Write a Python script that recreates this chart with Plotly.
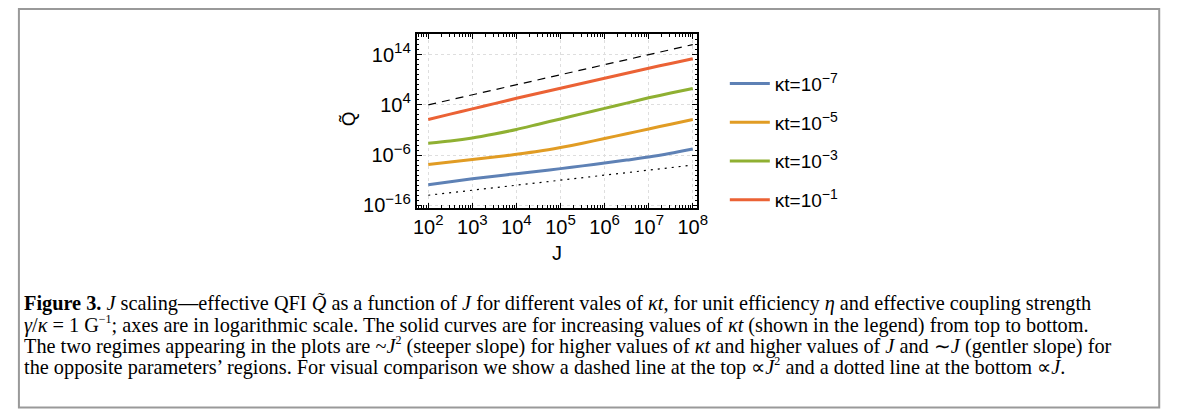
import numpy as np
import plotly.graph_objects as go

# ---- data (log10 values) ----
logJ = [2, 2.5, 3, 3.5, 4, 4.5, 5, 5.5, 6, 6.5, 7, 7.5, 8]
kt_exp = [-7, -5, -3, -1]
logQ_kt7 = [-11.9, -11.3, -10.7, -10.2, -9.7, -9.2, -8.7, -8.15, -7.6, -7.0, -6.4, -5.65, -4.8]
logQ_kt5 = [-7.9, -7.4, -6.9, -6.4, -5.85, -5.25, -4.5, -3.65, -2.7, -1.75, -0.8, 0.15, 1.1]
logQ_kt3 = [-3.65, -3.2, -2.6, -1.8, -0.9, 0.15, 1.2, 2.25, 3.3, 4.35, 5.4, 6.35, 7.25]
logQ_kt1 = [1.1, 2.15, 3.2, 4.25, 5.3, 6.3, 7.3, 8.3, 9.3, 10.3, 11.3, 12.25, 13.2]
ref_logJ = [2, 8]
ref_dashed_logQ = [4, 16]     # ∝ J^2
ref_dotted_logQ = [-14, -8]   # ∝ J

x_tick_exp = [2, 3, 4, 5, 6, 7, 8]
y_tick_exp = [14, 4, -6, -16]

colors = ["#5E81B5", "#E19C24", "#8FB032", "#EB6235"]

W, H = 1179, 412


def sup(e, base="10", size=14):
    return base + "<sup><span style='font-size:%dpx'>" % size + str(e).replace("-", "−") + "</span></sup>"


def csup(t):
    return "<sup><span style='font-size:12px'>" + t + "</span></sup>"


J = 10.0 ** np.array(logJ)
series = [logQ_kt7, logQ_kt5, logQ_kt3, logQ_kt1]

fig = go.Figure()
for i, (e, s) in enumerate(zip(kt_exp, series)):
    fig.add_trace(go.Scatter(
        x=J, y=10.0 ** np.array(s), mode="lines", name=sup(e, base="κt=10", size=14),
        line=dict(color=colors[i], width=3, shape="spline", smoothing=0.6),
        legendgroup=f"g{i}",
    ))
rJ = 10.0 ** np.array(ref_logJ)
fig.add_trace(go.Scatter(x=rJ, y=10.0 ** np.array(ref_dashed_logQ), mode="lines",
                         line=dict(color="black", width=1.2, dash="8px,6px"), showlegend=False))
fig.add_trace(go.Scatter(x=rJ, y=10.0 ** np.array(ref_dotted_logQ), mode="lines",
                         line=dict(color="black", width=1.2, dash="2px,5px"), showlegend=False))

SANS = "Liberation Sans, Arial, sans-serif"
tickfont = dict(family=SANS, size=20, color="black")

x_minor = [m * 10.0 ** e for e in range(1, 9) for m in range(2, 10)]
y_minor = [10.0 ** e for e in range(-17, 19)]

fig.update_xaxes(
    type="log", range=[1.74, 8.1],
    domain=[410 / W, 694 / W],
    tickvals=[10.0 ** e for e in x_tick_exp], ticktext=[sup(e, size=15) for e in x_tick_exp],
    ticks="inside", ticklen=5, tickwidth=1, tickcolor="black",
    showline=True, linewidth=2, linecolor="black", mirror="ticks",
    showgrid=True, gridcolor="#dedede", griddash="dot", gridwidth=1,
    tickfont=tickfont, zeroline=False,
    minor=dict(tickvals=x_minor, ticks="inside", ticklen=2.5, tickcolor="black", showgrid=False),
)
fig.update_yaxes(
    type="log", range=[-16.45, 18.03],
    domain=[1 - 204 / H, 1 - 27 / H],
    tickvals=[10.0 ** e for e in y_tick_exp], ticktext=[sup(e, size=15) for e in y_tick_exp],
    ticks="inside", ticklen=5, tickwidth=1, tickcolor="black",
    showline=True, linewidth=2, linecolor="black", mirror="ticks",
    showgrid=True, gridcolor="#dedede", griddash="dot", gridwidth=1,
    tickfont=tickfont, zeroline=False,
    minor=dict(tickvals=y_minor, ticks="inside", ticklen=2.5, tickcolor="black", showgrid=False),
)

annotations = [
    dict(x=552 / W, y=1 - 250 / H, text="J", showarrow=False, xref="paper", yref="paper",
         font=dict(family=SANS, size=20, color="black")),
    dict(x=341 / W, y=1 - 113 / H, text="Q̃", showarrow=False, xref="paper", yref="paper",
         textangle=-90, xanchor="center", yanchor="middle",
         font=dict(family=SANS, size=19, color="black")),
]

caption_lines = [
    "<b>Figure 3.</b> <i>J</i> scaling—effective QFI <i>Q̃</i> as a function of <i>J</i> for different vales of <i>κt</i>, for unit efficiency <i>η</i> and effective coupling strength",
    "<i>γ</i>/<i>κ</i> = 1 G" + csup("−1") + "; axes are in logarithmic scale. The solid curves are for increasing values of <i>κt</i> (shown in the legend) from top to bottom.",
    "The two regimes appearing in the plots are ~<i>J</i>" + csup("2") + " (steeper slope) for higher values of <i>κt</i> and higher values of <i>J</i> and ∼<i>J</i> (gentler slope) for",
    "the opposite parameters’ regions. For visual comparison we show a dashed line at the top ∝<i>J</i>" + csup("2") + " and a dotted line at the bottom ∝<i>J</i>.",
]
cap_y = [302, 323.5, 345, 366.5]
for t, yy in zip(caption_lines, cap_y):
    annotations.append(dict(x=10 / W, y=1 - yy / H, text=t, showarrow=False, xref="paper", yref="paper",
                            xanchor="left", yanchor="middle", align="left",
                            font=dict(family="Liberation Serif, Times New Roman, serif", size=20.3, color="black")))

fig.update_layout(
    width=W, height=H,
    margin=dict(l=0, r=0, t=0, b=0),
    paper_bgcolor="white", plot_bgcolor="white",
    showlegend=True,
    legend=dict(x=722 / W, y=1 - 58 / H, xanchor="left", yanchor="top",
                font=dict(family=SANS, size=19, color="black"),
                tracegroupgap=11, itemwidth=40, bgcolor="rgba(0,0,0,0)"),
    annotations=annotations,
    shapes=[dict(type="rect", xref="paper", yref="paper", x0=7 / W, x1=1162 / W,
                 y0=1 - 408.5 / H, y1=1 - 1 / H, line=dict(color="#999999", width=2))],
)

fig.write_html("out.html")
